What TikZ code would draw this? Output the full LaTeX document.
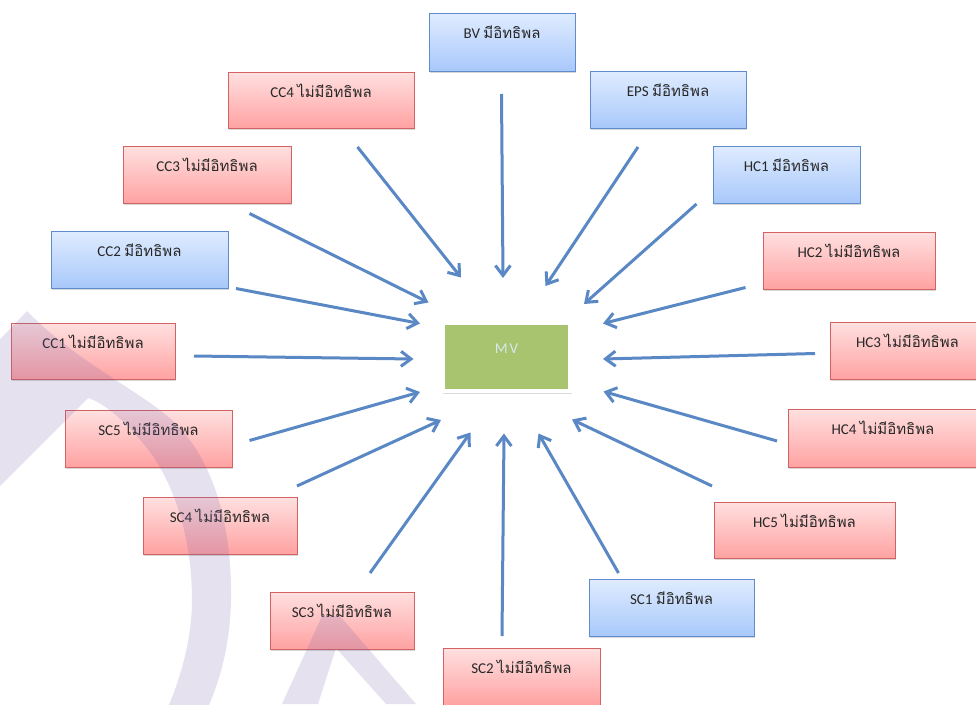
\documentclass[tikz,border=0pt]{standalone}
\usepackage{fontspec}
\setmainfont{Carlito}
\newfontfamily\thai[Script=Thai]{Loma}
\usetikzlibrary{arrows.meta,shadows}

\definecolor{redtop}{RGB}{255,224,224}
\definecolor{redbot}{RGB}{255,162,162}
\definecolor{redline}{RGB}{212,98,98}
\definecolor{bluetop}{RGB}{224,236,255}
\definecolor{bluebot}{RGB}{168,200,250}
\definecolor{blueline}{RGB}{96,140,205}
\definecolor{arrowblue}{RGB}{90,136,196}
\definecolor{mvgreen}{RGB}{168,196,110}
\definecolor{mvtext}{RGB}{214,232,240}
\definecolor{textgray}{RGB}{40,40,40}
\definecolor{logolav}{RGB}{112,92,168}

\begin{document}
\begin{tikzpicture}[x=1pt,y=-1pt,
  box/.style={rectangle, line width=1pt, inner sep=0pt,
    drop shadow={shadow xshift=1.2pt, shadow yshift=-2pt, opacity=0.3}},
  redbox/.style={box, draw=redline, top color=redtop, bottom color=redbot},
  bluebox/.style={box, draw=blueline, top color=bluetop, bottom color=bluebot},
  boxtext/.style={font=\fontsize{15}{18}\selectfont, text=textgray, inner sep=0pt, anchor=base},
  link/.style={draw=arrowblue, line width=3pt, -{Straight Barb[length=10pt,width=15pt]}},
  logo/.style={fill=logolav, opacity=0.18}]

\fill[white] (0,0) rectangle (976,704);
\useasboundingbox (0,0) rectangle (976,704);

% ---- factor boxes ----
\node[bluebox, minimum width=146, minimum height=58] (bv)  at (502,42) {};
\node[redbox,  minimum width=186, minimum height=56] (cc4) at (321,100) {};
\node[bluebox, minimum width=156, minimum height=57] (eps) at (668,99.5) {};
\node[redbox,  minimum width=168, minimum height=57] (cc3) at (207,174.5) {};
\node[bluebox, minimum width=147, minimum height=57] (hc1) at (786.5,174.5) {};
\node[bluebox, minimum width=177, minimum height=57] (cc2) at (139.5,259.5) {};
\node[redbox,  minimum width=172, minimum height=57] (hc2) at (849,260.5) {};
\node[redbox,  minimum width=164, minimum height=56] (cc1) at (93,351) {};
\node[redbox,  minimum width=155, minimum height=57] (hc3) at (907.5,350.5) {};
\node[redbox,  minimum width=167, minimum height=57] (sc5) at (148.5,438.5) {};
\node[redbox,  minimum width=190, minimum height=58] (hc4) at (883,438) {};
\node[redbox,  minimum width=154, minimum height=57] (sc4) at (220,525.5) {};
\node[redbox,  minimum width=181, minimum height=56] (hc5) at (804.5,530) {};
\node[redbox,  minimum width=144, minimum height=57] (sc3) at (342,620.5) {};
\node[bluebox, minimum width=165, minimum height=57] (sc1) at (671.5,607.5) {};
\node[redbox,  minimum width=157, minimum height=57] (sc2) at (521.5,676.5) {};

% ---- labels ----
\node[boxtext] (bv-t)  at (502,38)    {BV {\thai มีอิทธิพล}};
\node[boxtext] (cc4-t) at (321,97)    {CC4 {\thai ไม่มีอิทธิพล}};
\node[boxtext] (eps-t) at (668,96)    {EPS {\thai มีอิทธิพล}};
\node[boxtext] (cc3-t) at (207,171)   {CC3 {\thai ไม่มีอิทธิพล}};
\node[boxtext] (hc1-t) at (786.5,171) {HC1 {\thai มีอิทธิพล}};
\node[boxtext] (cc2-t) at (139.5,256) {CC2 {\thai มีอิทธิพล}};
\node[boxtext] (hc2-t) at (849,257)   {HC2 {\thai ไม่มีอิทธิพล}};
\node[boxtext] (cc1-t) at (93,348)    {CC1 {\thai ไม่มีอิทธิพล}};
\node[boxtext] (hc3-t) at (907.5,347) {HC3 {\thai ไม่มีอิทธิพล}};
\node[boxtext] (sc5-t) at (148.5,435) {SC5 {\thai ไม่มีอิทธิพล}};
\node[boxtext] (hc4-t) at (883,434)   {HC4 {\thai ไม่มีอิทธิพล}};
\node[boxtext] (sc4-t) at (220,522)   {SC4 {\thai ไม่มีอิทธิพล}};
\node[boxtext] (hc5-t) at (804.5,527) {HC5 {\thai ไม่มีอิทธิพล}};
\node[boxtext] (sc3-t) at (342,617)   {SC3 {\thai ไม่มีอิทธิพล}};
\node[boxtext] (sc1-t) at (671.5,604) {SC1 {\thai มีอิทธิพล}};
\node[boxtext] (sc2-t) at (521.5,673) {SC2 {\thai ไม่มีอิทธิพล}};

% ---- central outcome box ----
\node[rectangle, fill=mvgreen, draw=white, line width=4pt, inner sep=0pt,
      minimum width=127, minimum height=68,
      drop shadow={shadow xshift=0.8pt, shadow yshift=-1.8pt, shadow scale=1.02, opacity=0.28}] (mv) at (506.5,357) {};
\node[font=\fontsize{15}{18}\selectfont\addfontfeatures{LetterSpace=12}, text=mvtext,
      inner sep=0pt, anchor=base] (mv-t) at (506.5,353) {MV};

% ---- arrow end points ----
\coordinate (bv-a)  at (501.5,94);   \coordinate (bv-b)  at (503,278);
\coordinate (eps-a) at (638,147);    \coordinate (eps-b) at (545.5,286);
\coordinate (hc1-a) at (696.5,204);  \coordinate (hc1-b) at (584,304);
\coordinate (hc2-a) at (745.5,287.5);\coordinate (hc2-b) at (603,323.5);
\coordinate (hc3-a) at (815,353.5);  \coordinate (hc3-b) at (603,359);
\coordinate (hc4-a) at (777,441);    \coordinate (hc4-b) at (603.5,391.5);
\coordinate (hc5-a) at (712,486);    \coordinate (hc5-b) at (572,419.5);
\coordinate (sc1-a) at (618.5,573);  \coordinate (sc1-b) at (538.5,433.5);
\coordinate (sc2-a) at (502,636);    \coordinate (sc2-b) at (504,433.5);
\coordinate (sc3-a) at (370,573);    \coordinate (sc3-b) at (470.5,432.5);
\coordinate (sc4-a) at (297,486);    \coordinate (sc4-b) at (441,420);
\coordinate (sc5-a) at (249.5,440.5);\coordinate (sc5-b) at (420,392);
\coordinate (cc1-a) at (194,356);    \coordinate (cc1-b) at (413.5,359);
\coordinate (cc2-a) at (236,288.5);  \coordinate (cc2-b) at (420,323.5);
\coordinate (cc3-a) at (249.5,213.5);\coordinate (cc3-b) at (428.5,302.5);
\coordinate (cc4-a) at (357.5,147);  \coordinate (cc4-b) at (461,277.5);

\foreach \f in {bv,eps,hc1,hc2,hc3,hc4,hc5,sc1,sc2,sc3,sc4,sc5,cc1,cc2,cc3,cc4}
  \draw[link] (\f-a) -- (\f-b);

% ---- faint logo mark over the lower left ----
\path[logo]
  (-10,350) -- (27,311)
  .. controls (80,366) and (150,395) .. (180,428)
  .. controls (220,472) and (232,540) .. (231,600)
  .. controls (230,650) and (218,685) .. (206,712)
  -- (166,712)
  .. controls (180,680) and (192,640) .. (192,600)
  .. controls (192,540) and (175,480) .. (142,442)
  .. controls (122,418) and (102,402) .. (88,398)
  -- (0,486) -- (-10,486) -- cycle;
\path[logo]
  (282,704) -- (322,616) -- (340,616) -- (416,704) -- (386,704)
  -- (336,648) -- (318,704) -- cycle;
\end{tikzpicture}
\end{document}
